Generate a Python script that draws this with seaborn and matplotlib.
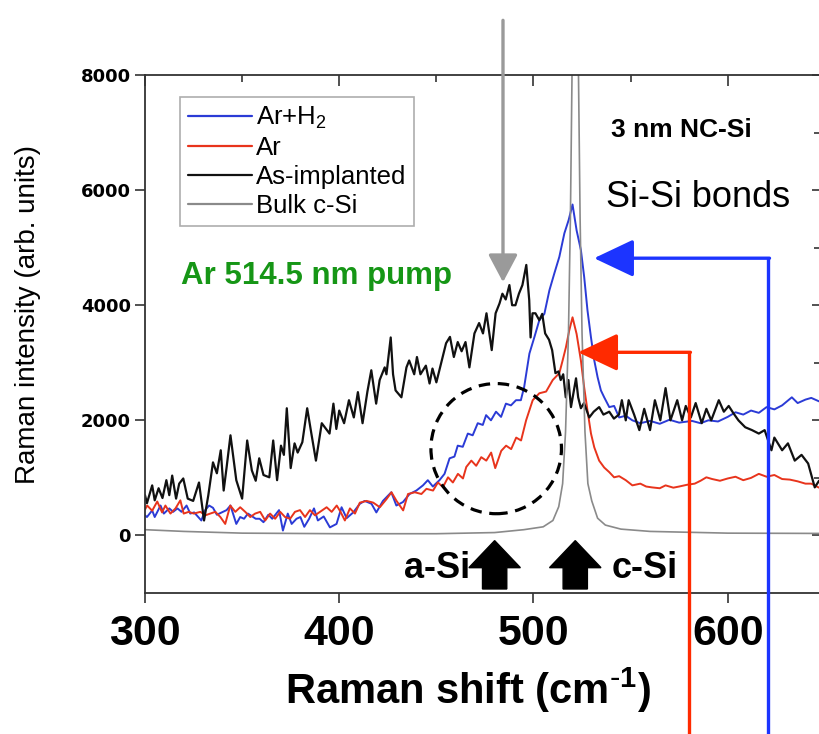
import matplotlib
matplotlib.use("Agg")
import matplotlib.pyplot as plt
import numpy as np
import pandas as pd
import seaborn as sns
from matplotlib.patches import Ellipse, FancyArrow

# ---------------- data ----------------
as_impl_x = [300, 301, 303.7, 305, 307, 309, 311, 312.5, 314, 316,
             317.6, 319.7, 322, 324.8, 327.8, 330.4, 332.6, 335, 337, 339,
             340.5, 342, 344, 347, 350, 352.6, 355, 357, 358.8, 361,
             364, 366, 368, 370, 371.5, 373, 375, 377, 378.6, 381,
             383.5, 385.5, 388, 391, 395, 397, 398.5, 400, 402.5, 405,
             407.5, 409.6, 412, 414.5, 416.5, 419, 420.8, 423.4, 424.3, 426.5,
             427.7, 429, 432, 434.6, 436, 438.6, 440, 441.8, 444.6, 446.5,
             448, 450, 452.5, 455, 457, 459, 461, 463, 465, 467,
             469.6, 472, 474, 475.8, 478.5, 480.5, 482.5, 484, 485.7, 487.6,
             489, 490.7, 492.5, 494.3, 496.3, 497.8, 498.5, 499.5, 501, 503,
             504.5, 506, 508, 509.6, 511.3, 512.9, 514, 515.3, 516.6, 518,
             519.3, 521.9, 523, 524.4, 526, 528.7, 531, 533.8, 536, 539,
             541.4, 544, 545.5, 547.5, 549, 551.8, 554.5, 557, 560, 562.5,
             565.3, 568, 570.5, 574, 576.5, 578.4, 581, 583.5, 586.6, 589,
             591.5, 595.4, 598, 600.5, 603, 605.5, 609, 612.5, 616, 619,
             622.5, 624, 628, 631, 634.5, 638, 641.4, 644.8, 647]
as_impl_y = [700, 560, 870, 610, 820, 650, 960, 700, 1040, 640,
             900, 990, 640, 600, 920, 260, 700, 1270, 1080, 1480,
             780, 1180, 1740, 960, 640, 1650, 1130, 950, 1340, 1050,
             1010, 1650, 960, 1560, 1400, 2210, 1170, 1600, 1440, 1620,
             2210, 1800, 1300, 1950, 1770, 2290, 1850, 2170, 1950, 2350,
             2050, 2490, 1950, 2500, 2870, 2290, 2700, 2920, 2800, 3440,
             2800, 2520, 2400, 2920, 3040, 2800, 3100, 2800, 2950, 2640,
             2900, 2660, 3000, 3340, 3450, 3100, 3360, 3200, 3360, 2920,
             3510, 3690, 3510, 3860, 3220, 3860, 4030, 4200, 4100, 4350,
             4000, 4000, 4200, 4350, 4700, 4090, 3440, 3860, 3860, 3740,
             3850, 3510, 3400, 3220, 2820, 2850, 2700, 2800, 2400, 2700,
             2230, 2730, 2400, 2210, 2300, 2050, 2150, 2230, 2100, 2150,
             2030, 2100, 2350, 2000, 2350, 2100, 1830, 2200, 1830, 2350,
             2000, 2560, 2000, 2350, 2000, 2250, 2050, 2300, 1950, 2200,
             2000, 2350, 2150, 2250, 2120, 2000, 1880, 1830, 1770, 1830,
             1480, 1700, 1480, 1600, 1300, 1400, 1250, 835, 950]

arh2_x = [300, 301, 303.7, 305, 308, 309.7, 312.5, 314.5, 316.7, 318.8,
          321.4, 323.3, 325.3, 329, 331, 333, 335, 337, 342, 344,
          347, 349, 351, 353, 357, 359, 361, 363.5, 365.5, 369,
          371, 373.5, 375.5, 378, 380, 382, 384.5, 387, 389, 392,
          395.2, 398.6, 401.2, 403.8, 407.2, 410.6, 413.1, 416.6, 419.1, 422.5,
          426.8, 429.4, 432.8, 436.2, 439.7, 443.1, 445.6, 448.2, 451.6, 454.2,
          456.8, 459.3, 461, 463.6, 466.2, 468.7, 471.3, 473.9, 475.6, 478.1,
          480.7, 483.3, 485.8, 488.4, 491, 493.5, 495.2, 497.9, 500.5, 503,
          505.6, 508.2, 510.7, 513.3, 515.9, 518.1, 520.1, 522.2, 524.4, 526.1,
          527.8, 529.6, 531.3, 533, 534.7, 536.4, 539, 541.5, 544.1, 547.5,
          550.9, 555, 560, 565, 570, 575, 581.6, 586, 590, 595,
          600, 604, 608, 612, 616, 620, 624, 628, 633, 636,
          640, 643, 647]
arh2_y = [350, 320, 435, 320, 520, 380, 470, 410, 470, 410,
          520, 380, 400, 260, 440, 520, 480, 360, 440, 520,
          200, 320, 290, 380, 290, 290, 230, 360, 290, 440,
          85, 380, 200, 290, 320, 150, 290, 470, 260, 330,
          140, 200, 490, 300, 400, 550, 600, 550, 400, 600,
          750, 520, 580, 720, 780, 870, 960, 850, 960, 1070,
          1340, 1370, 1560, 1540, 1770, 1740, 1950, 1920, 2090, 2000,
          2150, 2060, 2290, 2260, 2350, 2350, 2580, 3160, 3450, 3740,
          3850, 4260, 4550, 4840, 5250, 5480, 5750, 5300, 4960, 4490,
          3910, 3440, 3040, 2750, 2520, 2400, 2230, 2250, 2050, 2080,
          2000, 1950, 1990, 1940, 2010, 1960, 1990, 1950, 2000, 1980,
          2060, 2140, 2100, 2170, 2130, 2230, 2190, 2260, 2400, 2300,
          2360, 2390, 2330]

ar_x = [300, 301.1, 303.7, 306.3, 308.8, 310.5, 313.1, 315.7, 318.2, 319.9,
        322.5, 325.1, 328.5, 331.1, 333.6, 336.2, 338.8, 341.3, 343.9, 346.5,
        349, 351.6, 354.2, 356.7, 359.3, 361.9, 364.4, 367, 369.6, 372.1,
        374.7, 377.2, 379.8, 382.4, 384.9, 387.5, 390.1, 393.5, 396.1, 398.7,
        400.5, 402.9, 405.5, 408.1, 410.6, 414.1, 417.5, 420.9, 424.3, 426.9,
        429.5, 432.9, 435.4, 438.9, 442.3, 444.9, 448.3, 450.8, 453.4, 456,
        458.5, 461.1, 463.7, 465.4, 468, 470.5, 473.1, 475.7, 478.2, 480.3,
        483.4, 485.9, 488.5, 491.1, 493.6, 496.2, 499.6, 503, 506.5, 509.9,
        513.3, 515, 516.7, 518.4, 520.1, 522.2, 524.4, 526.1, 527.8, 529.6,
        531.3, 533.8, 536.4, 539, 541.5, 544.1, 547.5, 550.9, 555, 558,
        561, 565, 568, 572, 575, 579, 583, 586, 589, 592,
        596, 600, 604, 608, 612, 616, 620, 624, 628, 632,
        636, 640, 643, 647]
ar_y = [450, 520, 430, 590, 400, 520, 380, 470, 610, 380,
        410, 380, 410, 350, 380, 410, 320, 200, 520, 410,
        490, 410, 320, 380, 410, 260, 380, 290, 410, 320,
        290, 410, 440, 320, 440, 350, 410, 490, 410, 520,
        420, 260, 470, 380, 570, 600, 570, 490, 630, 750,
        600, 435, 720, 750, 720, 810, 780, 920, 840, 1010,
        920, 1070, 990, 1190, 1300, 1210, 1360, 1300, 1440, 1170,
        1470, 1560, 1500, 1700, 1650, 2000, 2350, 2470, 2500, 2700,
        2820, 3040, 3270, 3560, 3790, 3500, 3040, 2570, 2170, 1770,
        1530, 1300, 1180, 1100, 1010, 1030, 960, 870, 900, 850,
        835, 820, 870, 830, 850, 880, 900, 950, 1010, 980,
        950, 990, 1020, 960, 1000, 1070, 1020, 1050, 980, 970,
        940, 900, 900, 830]

bulk_x = [300, 320, 350, 400, 450, 480, 495, 505, 510, 513,
          515, 516.5, 518, 519, 520, 521, 521.5, 522, 523, 524,
          525, 526.5, 528, 530, 533, 537, 545, 560, 600, 647]
bulk_y = [100, 70, 40, 30, 30, 50, 100, 150, 260, 500,
          900, 1800, 3500, 5500, 8500, 11500, 12000, 11500, 8500, 5500,
          3500, 1800, 900, 600, 300, 180, 110, 70, 40, 35]

series_names = ["Ar+H$_2$", "Ar", "As-implanted", "Bulk c-Si"]
series_colors = ["#2b3bd6", "#e8341c", "#111111", "#8a8a8a"]
series_widths = [1.4, 1.4, 1.6, 1.2]
x_ticks = [300, 400, 500, 600]
y_ticks = [0, 2000, 4000, 6000, 8000]

# ---------------- figure ----------------
sns.set_theme(style="white")
plt.rcParams["font.family"] = ["Liberation Sans", "DejaVu Sans"]
plt.rcParams["mathtext.default"] = "regular"
for key in ("text.color", "axes.labelcolor", "xtick.color", "ytick.color"):
    plt.rcParams[key] = "black"

fig = plt.figure(figsize=(8.19, 7.34), dpi=100)
ax = fig.add_axes([145 / 819, 1 - 593 / 734, 675 / 819, 518 / 734])

xs = [arh2_x, ar_x, as_impl_x, bulk_x]
ys = [arh2_y, ar_y, as_impl_y, bulk_y]
for name, col, lw, x, y in zip(series_names, series_colors, series_widths, xs, ys):
    d = pd.DataFrame({"shift": x, "intensity": y})
    sns.lineplot(data=d, x="shift", y="intensity", ax=ax, color=col, lw=lw,
                 label=name, estimator=None, sort=False)

ax.set_xlim(300, 647.5)
ax.set_ylim(-1000, 8000)

for s in ax.spines.values():
    s.set_visible(True)
    s.set_color("#333333")
    s.set_linewidth(1.3)

ax.set_xticks(x_ticks)
ax.set_xticks([350, 450, 550], minor=True)
ax.set_yticks(y_ticks)
ax.set_yticks([1000, 3000, 5000, 7000], minor=True)
ax.tick_params(axis="both", which="both", direction="out", color="#333333", width=1.2)
ax.tick_params(axis="x", which="major", length=7, pad=8, labelsize=31)
ax.tick_params(axis="x", which="minor", length=4)
ax.tick_params(axis="y", which="major", length=7, pad=3, labelsize=13)
ax.tick_params(axis="y", which="minor", length=5)
ax.tick_params(bottom=True, left=True)
for lab in ax.get_xticklabels():
    lab.set_fontweight("bold")
for lab in ax.get_yticklabels():
    lab.set_fontweight("bold")
    lab.set_family("DejaVu Sans")

sx = ax.secondary_xaxis("top")
sx.set_xticks(x_ticks)
sx.set_xticks([350, 450, 550], minor=True)
sx.tick_params(which="both", direction="in", labeltop=False, color="#333333", width=1.2)
sx.tick_params(which="major", length=8)
sx.tick_params(which="minor", length=5)
sx.spines["top"].set_visible(False)

sy = ax.secondary_yaxis("right")
sy.set_yticks(y_ticks)
sy.set_yticks([1000, 3000, 5000, 7000], minor=True)
sy.tick_params(which="both", direction="in", labelright=False, color="#333333", width=1.2)
sy.tick_params(which="major", length=6)
sy.tick_params(which="minor", length=4)
sy.spines["right"].set_visible(False)

ax.set_xlabel("Raman shift (cm$^{\\text{-}1}$)", fontsize=30, fontweight="bold")
ax.xaxis.set_label_coords((468 - 145) / 675, (593 - 690) / 518)
ax.xaxis.label.set_va("center")
ax.set_ylabel("Raman intensity (arb. units)", fontsize=20)
ax.yaxis.set_label_coords((28 - 145) / 675, (593 - 315) / 518)
ax.yaxis.label.set_va("center")

leg = ax.legend(loc="upper left", bbox_to_anchor=(35 / 675, (593 - 97) / 518),
                borderaxespad=0, fontsize=18.5, frameon=True, fancybox=False,
                handlelength=2.5, handletextpad=0.15, labelspacing=0.2,
                borderpad=0.3)
leg.get_frame().set_edgecolor("#999999")
leg.get_frame().set_linewidth(1.2)
for h in leg.get_lines():
    h.set_linewidth(1.6)

# ---------------- annotations ----------------
ax.text(540, 7050, "3 nm NC-Si", fontsize=19, fontweight="bold", va="center", ha="left")
ax.text(537.5, 5880, "Si-Si bonds", fontsize=26, va="center", ha="left")
ax.text(318.5, 4500, "Ar 514.5 nm pump", fontsize=22.5, fontweight="bold",
        color="#169616", va="center", ha="left")

# dashed circle
ax.add_patch(Ellipse((480.8, 1508), width=67.2, height=2261, fill=False,
                     edgecolor="black", lw=2.3, ls=(0, (3.6, 2.4)), zorder=5))

# gray pump arrow
ax.annotate("", xy=(484.3, 4400), xytext=(484.3, 8950), annotation_clip=False,
            arrowprops=dict(arrowstyle="-|>,head_length=0.85,head_width=0.45",
                            mutation_scale=20, lw=2.4, color="#9a9a9a",
                            shrinkA=0, shrinkB=0))

# blue and red bent arrows
for xv, yv, xtip, col in [(620.9, 4817, 531.2, "#1c34ff"), (580.2, 3182, 523.0, "#ff2a00")]:
    ax.plot([xv, xv], [-3600, yv], color=col, lw=2.4, clip_on=False,
            solid_capstyle="butt", zorder=6)
    ax.annotate("", xy=(xtip, yv), xytext=(xv + 0.6, yv), annotation_clip=False,
                arrowprops=dict(arrowstyle="-|>,head_length=0.95,head_width=0.45",
                                mutation_scale=26, lw=2.4, color=col,
                                shrinkA=0, shrinkB=0), zorder=6)

# black block arrows for a-Si and c-Si
for xc in (480.0, 521.5):
    ax.add_patch(FancyArrow(xc, -930, 0, 840, width=12.5, head_width=26.5,
                            head_length=470, length_includes_head=True,
                            color="black", zorder=5))
ax.text(467.5, -580, "a-Si", fontsize=26, fontweight="bold", ha="right", va="center")
ax.text(540, -580, "c-Si", fontsize=26, fontweight="bold", ha="left", va="center")

fig.savefig("out.png", dpi=100)
